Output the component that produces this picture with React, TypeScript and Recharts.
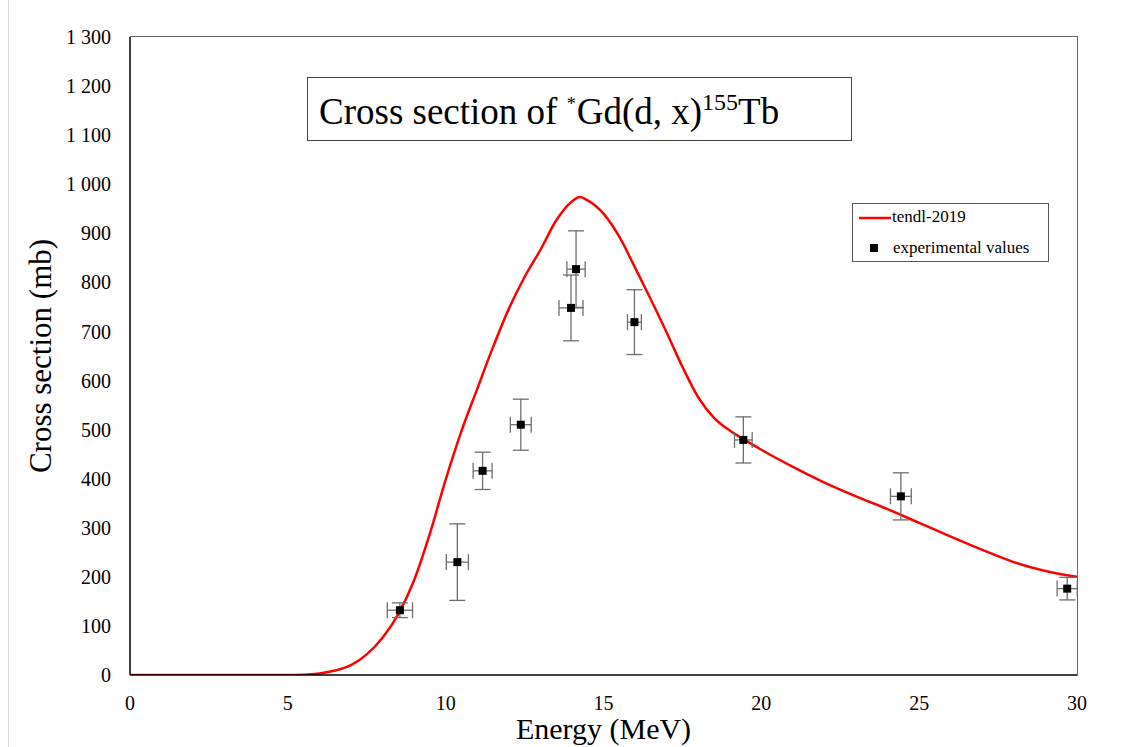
import React from "react";
import {
  ComposedChart,
  Line,
  Scatter,
  ErrorBar,
  XAxis,
  YAxis,
  Legend,
} from "recharts";

// tendl-2019 evaluated curve
const tendlEnergy = [
  0, 1, 2, 3, 4, 5, 5.5, 6, 6.5, 7, 7.5, 8, 8.5, 9, 9.5, 10, 10.5, 11, 11.5, 12,
  12.5, 13, 13.5, 14, 14.25, 14.5, 15, 15.5, 16, 16.5, 17, 17.5, 18, 18.5, 19,
  19.5, 20, 21, 22, 23, 24, 25, 26, 27, 28, 29, 30,
];
const tendlValues = [
  0, 0, 0, 0, 0, 0, 0.5, 3, 9, 20, 42, 76, 124, 193, 288, 398, 497, 583, 668, 746,
  811, 866, 926, 965, 974, 967, 940, 893, 830, 765, 698, 628, 566, 524, 498,
  478, 459, 424, 392, 364, 338, 310, 282, 255, 230, 212, 200,
];

// experimental points
const expEnergy = [8.55, 10.37, 11.17, 12.38, 13.97, 14.13, 15.98, 19.43, 24.42, 29.69];
const expValues = [132, 230, 416, 510, 748, 827, 719, 479, 364, 176];
const expErrY = [15, 78, 38, 52, 67, 78, 66, 47, 48, 23];
const expErrX = [0.4, 0.35, 0.3, 0.33, 0.38, 0.29, 0.22, 0.28, 0.33, 0.32];

const xTicks = [0, 5, 10, 15, 20, 25, 30];
const yTicks = [0, 100, 200, 300, 400, 500, 600, 700, 800, 900, 1000, 1100, 1200, 1300];

const FONT = "'Liberation Serif', 'Times New Roman', serif";

const tendlData = tendlEnergy.map((e, i) => ({ energy: e, tendl: tendlValues[i] }));
const expData = expEnergy.map((e, i) => ({
  energy: e,
  value: expValues[i],
  errY: expErrY[i],
  errX: expErrX[i],
}));

const fmtY = (v: number) =>
  v >= 1000 ? `1 ${String(v - 1000).padStart(3, "0")}` : String(v);

const SquareDot = (props: any) => {
  const { cx, cy } = props;
  if (cx == null || cy == null) return null;
  return <rect x={cx - 4} y={cy - 4} width={8} height={8} fill="#000" />;
};

function LegendBox() {
  return (
    <div
      style={{
        position: "relative",
        width: 197,
        height: 59,
        border: "1px solid #555",
        background: "#fff",
        fontFamily: FONT,
        fontSize: 17,
        color: "#000",
        boxSizing: "border-box",
        whiteSpace: "nowrap",
      }}
    >
      <svg width={32} height={4} style={{ position: "absolute", left: 6, top: 12 }}>
        <line x1={0} y1={2} x2={32} y2={2} stroke="#ff0000" strokeWidth={2.5} />
      </svg>
      <span style={{ position: "absolute", left: 39, top: 2, lineHeight: "22px" }}>
        tendl-2019
      </span>
      <svg width={8} height={8} style={{ position: "absolute", left: 17, top: 40 }}>
        <rect x={0} y={0} width={8} height={8} fill="#000" />
      </svg>
      <span style={{ position: "absolute", left: 40, top: 33, lineHeight: "22px" }}>
        experimental values
      </span>
    </div>
  );
}

export default function App() {
  return (
    <div
      style={{
        position: "absolute",
        left: 0,
        top: 0,
        width: 1130,
        height: 747,
        background: "#fff",
        overflow: "hidden",
      }}
    >
      <div
        style={{
          position: "absolute",
          left: 8,
          top: -2,
          width: 1120,
          height: 760,
          borderLeft: "1px solid #d9d9d9",
        }}
      />
      <ComposedChart
        width={1130}
        height={747}
        margin={{ top: 37, right: 53, bottom: 12, left: 50 }}
      >
        <XAxis
          dataKey="energy"
          type="number"
          domain={[0, 30]}
          ticks={xTicks}
          allowDataOverflow
          axisLine={{ stroke: "#000", strokeWidth: 1.5 }}
          tickLine={false}
          tickMargin={15}
          height={60}
          tick={{ fill: "#000", fontFamily: FONT, fontSize: 20 }}
          label={{
            value: "Energy (MeV)",
            position: "insideBottom",
            offset: -4,
            fill: "#000",
            fontFamily: FONT,
            fontSize: 30,
          }}
        />
        <YAxis
          type="number"
          domain={[0, 1300]}
          ticks={yTicks}
          allowDataOverflow
          tickFormatter={fmtY}
          axisLine={{ stroke: "#000", strokeWidth: 1.5 }}
          tickLine={false}
          tickMargin={13}
          width={80}
          tick={{ fill: "#000", fontFamily: FONT, fontSize: 20 }}
          label={{
            value: "Cross section (mb)",
            angle: -90,
            position: "center",
            dx: -50,
            fill: "#000",
            fontFamily: FONT,
            fontSize: 31,
          }}
        />
        <Legend
          layout="vertical"
          align="center"
          verticalAlign="middle"
          wrapperStyle={{ left: 852, top: 203, width: 197 }}
          content={() => <LegendBox />}
        />
        <Line
          data={tendlData}
          dataKey="tendl"
          type="monotone"
          stroke="#ff0000"
          strokeWidth={2.5}
          dot={false}
          activeDot={false}
          isAnimationActive={false}
          legendType="none"
        />
        <Scatter
          data={expData}
          dataKey="value"
          fill="#000"
          shape={SquareDot}
          isAnimationActive={false}
        >
          <ErrorBar dataKey="errY" direction="y" width={8} stroke="#6e6e6e" strokeWidth={1.3} />
          <ErrorBar dataKey="errX" direction="x" width={8} stroke="#6e6e6e" strokeWidth={1.3} />
        </Scatter>
      </ComposedChart>
      {/* top and right frame of plot area */}
      <div
        style={{
          position: "absolute",
          left: 130,
          top: 36,
          width: 947,
          height: 639,
          borderTop: "1.5px solid #666",
          borderRight: "1.5px solid #666",
          pointerEvents: "none",
        }}
      />
      <div
        style={{
          position: "absolute",
          left: 307,
          top: 77,
          width: 545,
          height: 64,
          border: "1px solid #444",
          boxSizing: "border-box",
          background: "#fff",
          fontFamily: FONT,
          fontSize: 37,
          color: "#000",
          paddingLeft: 11,
          lineHeight: "48px",
          whiteSpace: "nowrap",
        }}
      >
        Cross section of{" "}
        <sup style={{ fontSize: 18, verticalAlign: 14, marginRight: 1 }}>*</sup>
        Gd(d, x)
        <sup style={{ fontSize: 24, verticalAlign: 14 }}>155</sup>
        Tb
      </div>
    </div>
  );
}
